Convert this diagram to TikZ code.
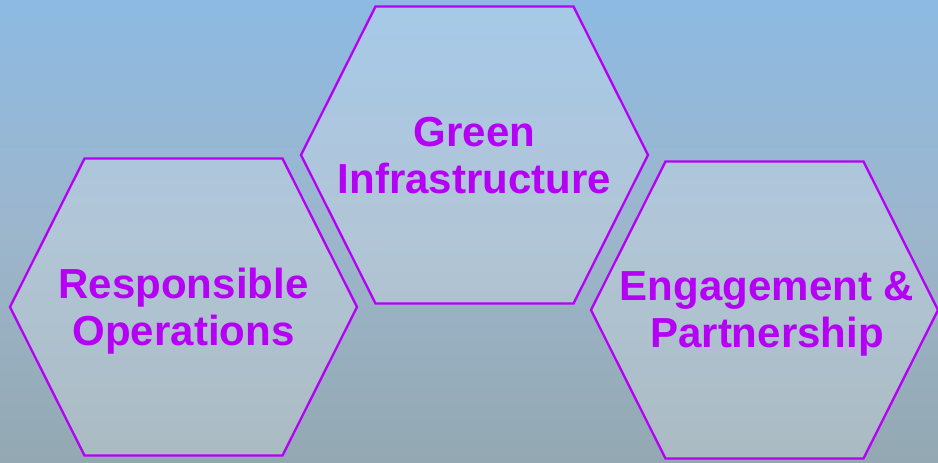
\documentclass[tikz,border=0pt]{standalone}
\usepackage{fontspec}
\setmainfont{Liberation Sans}
\definecolor{bgtop}{RGB}{141,186,226}
\definecolor{bgmid}{RGB}{156,182,204}
\definecolor{bgbot}{RGB}{147,168,178}
\definecolor{hexpurple}{RGB}{182,0,245}
\begin{document}
\begin{tikzpicture}[x=1pt,y=-1pt,
  hexbox/.style={draw=hexpurple,line width=2.3pt,fill=white,fill opacity=0.22,line join=miter},
  hexlabel/.style={text=hexpurple,font=\fontsize{42}{47}\selectfont\bfseries,align=center}]
\useasboundingbox (0,0) rectangle (938,463);
\shade[top color=bgtop,bottom color=bgmid] (0,0) rectangle (938,232);
\shade[top color=bgmid,bottom color=bgbot] (0,231.5) rectangle (938,463);
% hexagon: centre (cx,cy), half-width 173.5, half-height 148.5, top half-edge 99
\newcommand{\hexat}[2]{%
  \draw[hexbox] (#1-99,#2-148.5) -- (#1+99,#2-148.5) -- (#1+173.5,#2) -- (#1+99,#2+148.5) -- (#1-99,#2+148.5) -- (#1-173.5,#2) -- cycle;}
\hexat{474.5}{155}
\hexat{183.5}{307}
\hexat{764.5}{310}
\node[hexlabel] (green) at (474.5,156) {Green\\Infrastructure};
\node[hexlabel] (resp) at (183.5,311) {Responsible\\Operations};
\node[hexlabel] (eng) at (767,314) {Engagement \&\\Partnership};
\end{tikzpicture}
\end{document}
